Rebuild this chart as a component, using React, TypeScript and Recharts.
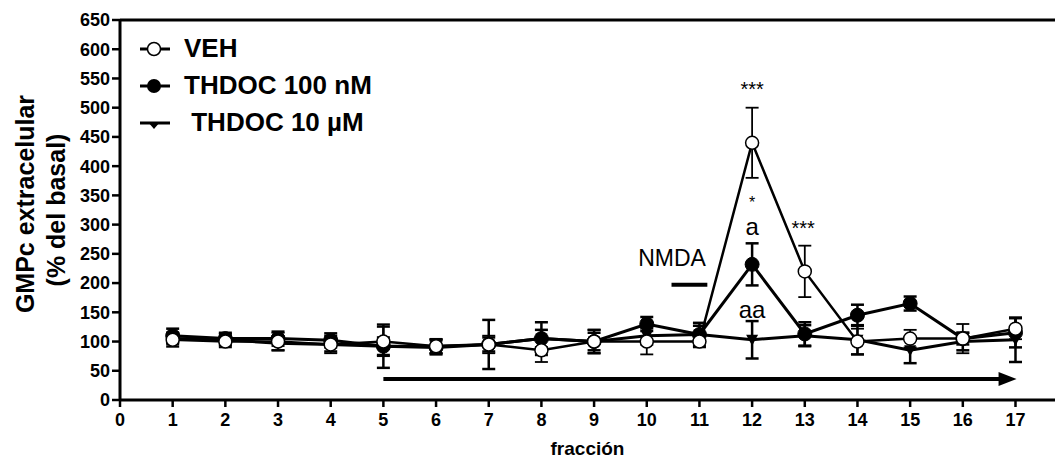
import React from 'react';
import {
  ComposedChart, Line, XAxis, YAxis, ErrorBar, ReferenceLine, ReferenceDot, Legend,
} from 'recharts';

const fractions = [1, 2, 3, 4, 5, 6, 7, 8, 9, 10, 11, 12, 13, 14, 15, 16, 17];

const veh = [103, 100, 100, 95, 100, 92, 95, 85, 100, 100, 100, 440, 220, 100, 105, 105, 122];
const vehErr = [12, 10, 15, 15, 25, 12, 15, 20, 20, 22, 10, 60, 44, 22, 15, 25, 18];

const thdoc100 = [110, 105, 105, 102, 92, 90, 95, 105, 100, 130, 112, 232, 113, 145, 165, 105, 115];
const thdoc100Err = [12, 10, 12, 12, 15, 12, 12, 28, 20, 12, 15, 36, 20, 18, 12, 10, 25];

const thdoc10 = [105, 103, 97, 95, 92, 92, 95, 105, 100, 110, 112, 103, 110, 103, 85, 100, 103];
const thdoc10Err = [10, 10, 12, 12, 37, 12, 42, 15, 15, 15, 20, 32, 18, 25, 22, 15, 38];

const yTicks = [0, 50, 100, 150, 200, 250, 300, 350, 400, 450, 500, 550, 600, 650];
const xTicks = [0, 1, 2, 3, 4, 5, 6, 7, 8, 9, 10, 11, 12, 13, 14, 15, 16, 17];

const legendItems = [
  { label: 'VEH', marker: 'open' },
  { label: 'THDOC 100 nM', marker: 'filled' },
  { label: '\u00a0THDOC 10 \u00b5M', marker: 'triangle' },
];

const data = fractions.map((f, i) => ({
  x: f,
  veh: veh[i],
  vehErr: vehErr[i],
  t100: thdoc100[i],
  t100Err: thdoc100Err[i],
  t10: thdoc10[i],
  t10Err: thdoc10Err[i],
}));

const FONT = '"Liberation Sans", Arial, Helvetica, sans-serif';

const openDot = (p: any) => (
  <circle key={`o-${p.index}`} cx={p.cx} cy={p.cy} r={6.5} fill="#fff" stroke="#000" strokeWidth={1.5} />
);
const filledDot = (p: any) => (
  <circle key={`f-${p.index}`} cx={p.cx} cy={p.cy} r={7} fill="#000" stroke="#000" />
);
const triDot = (p: any) => (
  <polygon
    key={`t-${p.index}`}
    points={`${p.cx - 6},${p.cy - 5} ${p.cx + 6},${p.cy - 5} ${p.cx},${p.cy + 6}`}
    fill="#000"
  />
);

const LegendIcon = ({ marker }: { marker: string }) => (
  <svg width={32} height={20} style={{ display: 'block' }}>
    <line x1={1} y1={10} x2={31} y2={10} stroke="#000" strokeWidth={3} />
    {marker === 'open' && <circle cx={15} cy={10} r={6.5} fill="#fff" stroke="#000" strokeWidth={1.5} />}
    {marker === 'filled' && <circle cx={15} cy={10} r={7} fill="#000" />}
    {marker === 'triangle' && <polygon points="9,9 21,9 15,16" fill="#000" />}
  </svg>
);

const renderLegend = () => (
  <div style={{ fontFamily: FONT }}>
    {legendItems.map(item => (
      <div key={item.label} style={{ display: 'flex', alignItems: 'center', height: 37 }}>
        <LegendIcon marker={item.marker} />
        <span style={{ marginLeft: 13, fontSize: 26, fontWeight: 'bold', color: '#000' }}>{item.label}</span>
      </div>
    ))}
  </div>
);

const ArrowShape = (p: any) => {
  const { x1, y1, x2, y2 } = p;
  if (x1 == null) return null;
  return (
    <g>
      <line x1={x1} y1={y1} x2={x2 - 14} y2={y2} stroke="#000" strokeWidth={4} />
      <polygon points={`${x2 - 18},${y2 - 7} ${x2},${y2} ${x2 - 18},${y2 + 7}`} fill="#000" />
    </g>
  );
};

const note = (x: number, y: number, text: string, size: number) => (
  <ReferenceDot
    key={`${text}-${x}-${y}`}
    x={x}
    y={y}
    r={0}
    fill="none"
    stroke="none"
    label={{ value: text, position: 'center', fontSize: size, fill: '#000' }}
  />
);

const YLabel = () => (
  <g style={{ fontFamily: FONT }}>
    <text transform="translate(25,204) rotate(-90)" textAnchor="middle" dominantBaseline="central" fontSize={25} fontWeight="bold" fill="#000">
      GMPc extracelular
    </text>
    <text transform="translate(56,210) rotate(-90)" textAnchor="middle" dominantBaseline="central" fontSize={25} fontWeight="bold" fill="#000">
      (% del basal)
    </text>
  </g>
);

export default function App() {
  return (
    <div style={{ position: 'absolute', left: 0, top: 0, width: 1055, height: 459, background: '#fff', fontFamily: FONT }}>
      <ComposedChart width={1055} height={459} data={data} margin={{ top: 20, right: 0, bottom: 0, left: 0 }}>
        <XAxis
          dataKey="x"
          type="number"
          domain={[0, 17.75]}
          ticks={xTicks}
          allowDataOverflow
          height={59}
          tickSize={7}
          tickMargin={6}
          axisLine={{ stroke: '#000', strokeWidth: 3 }}
          tickLine={{ stroke: '#000', strokeWidth: 2.5 }}
          tick={{ fill: '#000', fontSize: 18, fontWeight: 'bold', fontFamily: FONT }}
          label={{ value: 'fracción', position: 'insideBottom', offset: 4, fill: '#000', fontSize: 19, fontWeight: 'bold', fontFamily: FONT }}
        />
        <YAxis
          type="number"
          domain={[0, 650]}
          ticks={yTicks}
          width={120}
          interval={0}
          tickSize={8}
          tickMargin={2}
          axisLine={{ stroke: '#000', strokeWidth: 3 }}
          tickLine={{ stroke: '#000', strokeWidth: 2.5 }}
          tick={{ fill: '#000', fontSize: 18, fontWeight: 'bold', fontFamily: FONT }}
          label={{ content: () => <YLabel /> }}
        />
        <ReferenceLine y={650} stroke="#000" strokeWidth={3} />
        <ReferenceLine
          segment={[{ x: 5, y: 36 }, { x: 17.02, y: 36 }]}
          shape={ArrowShape}
          ifOverflow="visible"
        />
        <ReferenceLine
          segment={[{ x: 10.47, y: 197 }, { x: 11.15, y: 197 }]}
          stroke="#000"
          strokeWidth={4}
        />
        {note(10.48, 243, 'NMDA', 23)}
        {note(12, 533, '***', 20)}
        {note(12, 338, '*', 16)}
        {note(12, 296, 'a', 24)}
        {note(12.97, 295, '***', 20)}
        {note(12, 154, 'aa', 24)}

        <Line
          dataKey="t10"
          stroke="#000"
          strokeWidth={3}
          dot={triDot}
          activeDot={false}
          isAnimationActive={false}
        >
          <ErrorBar dataKey="t10Err" width={6.5} stroke="#000" strokeWidth={2.5} isAnimationActive={false} />
        </Line>
        <Line
          dataKey="t100"
          stroke="#000"
          strokeWidth={3}
          dot={filledDot}
          activeDot={false}
          isAnimationActive={false}
        >
          <ErrorBar dataKey="t100Err" width={6.5} stroke="#000" strokeWidth={2.5} isAnimationActive={false} />
        </Line>
        <Line
          dataKey="veh"
          stroke="#000"
          strokeWidth={2.5}
          dot={openDot}
          activeDot={false}
          isAnimationActive={false}
        >
          <ErrorBar dataKey="vehErr" width={6.5} stroke="#000" strokeWidth={1.8} isAnimationActive={false} />
        </Line>
        <Legend
          content={renderLegend}
          layout="horizontal"
          verticalAlign="middle"
          align="center"
          wrapperStyle={{ position: 'absolute', left: 139, top: 30, width: 'auto', height: 'auto' }}
        />
      </ComposedChart>
    </div>
  );
}
